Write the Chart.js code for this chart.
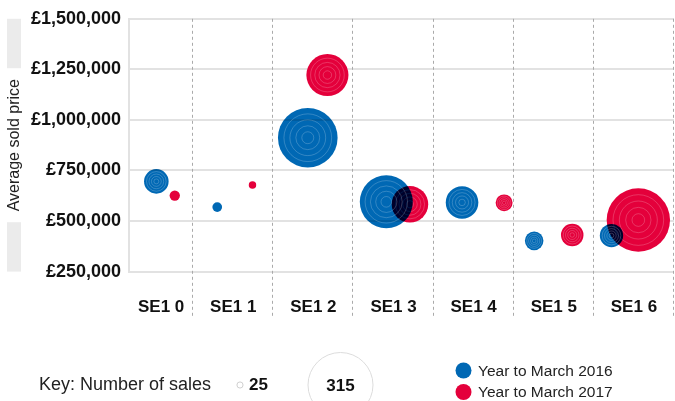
<!DOCTYPE html>
<html>
<head>
<meta charset="utf-8">
<script src="https://cdn.jsdelivr.net/npm/chart.js"></script>
<style>
html, body { margin: 0; padding: 0; background: #fff; }
</style>
</head>
<body>
<canvas id="myChart" width="675" height="401"></canvas>
<script>
var districts = ["SE1 0", "SE1 1", "SE1 2", "SE1 3", "SE1 4", "SE1 5", "SE1 6"];
var seriesNames = ["Year to March 2016", "Year to March 2017"];

// x position along the district axis, average price, number of sales
var xPos2016 = [0.04, 0.80, 1.93, 2.91, 3.855, 4.755, 5.72];
var price2016 = [696000, 569000, 912000, 595000, 592000, 402000, 428000];
var sales2016 = [119, 47, 289, 257, 158, 90, 113];

var xPos2017 = [0.27, 1.24, 2.175, 3.205, 4.38, 5.23, 6.055];
var price2017 = [626000, 678000, 1222000, 583000, 590000, 431000, 505000];
var sales2017 = [50, 36, 204, 177, 82, 109, 307];

var priceTicks = [250000, 500000, 750000, 1000000, 1250000, 1500000];
var keySales = [25, 315];

var FONT = "'Liberation Sans', Arial, sans-serif";
var BLUE = "#0068b4";
var RED = "#e4003b";
var X_MIN = -0.3, X_MAX = 6.5;

function radiusFor(n) { return n / 315 * 32.5; }

function points(xs, ys, ns) {
  return xs.map(function (x, i) { return { x: x, y: ys[i], r: radiusFor(ns[i]) }; });
}

var decorations = {
  id: "decorations",
  beforeDraw: function (chart) {
    var ctx = chart.ctx, a = chart.chartArea;
    // y axis title band
    ctx.save();
    ctx.fillStyle = "#ebebeb";
    ctx.fillRect(7, a.top, 14, a.bottom - a.top);
    var mid = (a.top + a.bottom) / 2;
    ctx.fillStyle = "#fff";
    ctx.fillRect(7, mid - 77, 14, 154);
    ctx.translate(15, mid);
    ctx.rotate(-Math.PI / 2);
    ctx.fillStyle = "#222";
    ctx.font = "16px " + FONT;
    ctx.textAlign = "center";
    ctx.textBaseline = "middle";
    ctx.fillText("Average sold price", 0, 0);
    ctx.restore();
  },
  beforeDatasetsDraw: function (chart) {
    var ctx = chart.ctx, a = chart.chartArea, xs = chart.scales.x;
    ctx.save();
    ctx.strokeStyle = "#aaa";
    ctx.lineWidth = 1;
    ctx.setLineDash([3, 3]);
    for (var i = 0; i < districts.length; i++) {
      var px = Math.round(xs.getPixelForValue(i + 0.5)) - 0.5;
      ctx.beginPath();
      ctx.moveTo(px, a.top);
      ctx.lineTo(px, a.bottom + 46);
      ctx.stroke();
    }
    ctx.restore();
  },
  beforeDatasetDraw: function (chart, args) {
    chart.ctx.save();
    if (args.index === 0) chart.ctx.globalCompositeOperation = "multiply";
  },
  afterDatasetDraw: function (chart, args) {
    var ctx = chart.ctx;
    ctx.restore();
    ctx.save();
    ctx.strokeStyle = "rgba(255,255,255,0.2)";
    ctx.lineWidth = 1;
    args.meta.data.forEach(function (el) {
      var r = el.options.radius;
      if (r < 8) return;
      [0.2, 0.4, 0.6, 0.8].forEach(function (f) {
        ctx.beginPath();
        ctx.arc(el.x, el.y, r * f, 0, Math.PI * 2);
        ctx.stroke();
      });
    });
    ctx.restore();
  },
  afterDraw: function (chart) {
    var ctx = chart.ctx;
    ctx.save();
    ctx.textBaseline = "middle";
    ctx.fillStyle = "#222";
    ctx.font = "18px " + FONT;
    ctx.textAlign = "left";
    ctx.fillText("Key: Number of sales", 39, 385);

    // size key
    ctx.strokeStyle = "#cfcfcf";
    ctx.lineWidth = 1;
    ctx.beginPath();
    ctx.arc(240, 385, radiusFor(keySales[0]) + 0.5, 0, Math.PI * 2);
    ctx.stroke();
    ctx.fillStyle = "#111";
    ctx.font = "bold 17px " + FONT;
    ctx.fillText(String(keySales[0]), 249, 385);

    ctx.strokeStyle = "#dcdcdc";
    ctx.beginPath();
    ctx.arc(340.5, 385, radiusFor(keySales[1]), 0, Math.PI * 2);
    ctx.stroke();
    ctx.textAlign = "center";
    ctx.fillText(String(keySales[1]), 340.5, 386);

    // series legend
    var cols = [BLUE, RED];
    ctx.textAlign = "left";
    ctx.font = "15.5px " + FONT;
    seriesNames.forEach(function (name, i) {
      var y = 370.5 + i * 21.5;
      ctx.fillStyle = cols[i];
      ctx.beginPath();
      ctx.arc(463.5, y, 8, 0, Math.PI * 2);
      ctx.fill();
      ctx.fillStyle = "#222";
      ctx.fillText(name, 478, y + 1);
    });
    ctx.restore();
  }
};

new Chart("myChart", {
  type: "bubble",
  data: {
    datasets: [
      { label: seriesNames[0], data: points(xPos2016, price2016, sales2016), backgroundColor: BLUE, borderWidth: 0, clip: false },
      { label: seriesNames[1], data: points(xPos2017, price2017, sales2017), backgroundColor: RED, borderWidth: 0, clip: false }
    ]
  },
  options: {
    responsive: false,
    animation: false,
    events: [],
    layout: { autoPadding: false, padding: { left: 23, top: 17, right: 1, bottom: 79 } },
    plugins: {
      legend: { display: false },
      tooltip: { enabled: false }
    },
    scales: {
      x: {
        type: "linear",
        min: X_MIN,
        max: X_MAX,
        grid: { display: true, drawOnChartArea: false, drawTicks: true, tickLength: 22, tickColor: "rgba(0,0,0,0)" },
        border: { display: false },
        afterBuildTicks: function (scale) {
          scale.ticks = districts.map(function (d, i) {
            var lo = Math.max(X_MIN, i - 0.5), hi = Math.min(X_MAX, i + 0.5);
            return { value: (lo + hi) / 2 };
          });
        },
        ticks: {
          autoSkip: false,
          maxRotation: 0,
          padding: 4,
          color: "#111",
          font: { family: FONT, size: 17, weight: "bold" },
          callback: function (v, i) { return districts[i]; }
        }
      },
      y: {
        min: priceTicks[0],
        max: priceTicks[priceTicks.length - 1],
        afterBuildTicks: function (scale) {
          scale.ticks = priceTicks.map(function (v) { return { value: v }; });
        },
        grid: { color: "#e2e2e2", lineWidth: 2, drawTicks: false },
        border: { display: true, color: "#e2e2e2", width: 2 },
        ticks: {
          padding: 8,
          color: "#111",
          font: { family: FONT, size: 18, weight: "bold" },
          callback: function (v) { return "£" + v.toLocaleString("en-GB"); }
        }
      }
    }
  },
  plugins: [decorations]
});
</script>
</body>
</html>
